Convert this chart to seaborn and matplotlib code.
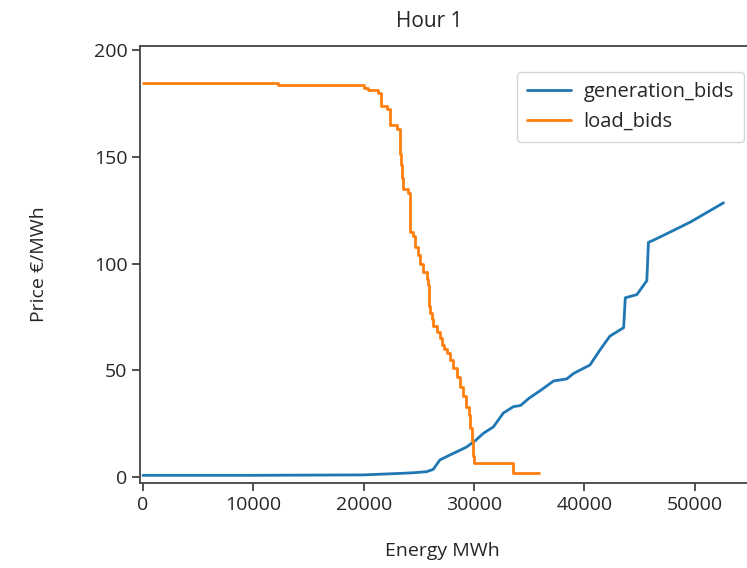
import numpy as np
import pandas as pd
import seaborn as sns
import matplotlib.pyplot as plt

# load bids (demand), step curve: energy where each price level starts
load_energy = [0, 12200, 20000, 20400, 21300, 21550, 22100, 22350, 23000, 23300,
               23350, 23450, 23600, 24050, 24200, 24500, 24650, 24900, 25100, 25400,
               25700, 25850, 25950, 26000, 26150, 26300, 26600, 26900, 27100, 27300,
               27550, 27800, 28100, 28450, 28700, 29000, 29250, 29500, 29650, 29800,
               29900, 29950, 33570, 35900]
load_price = [184.5, 183.5, 182.5, 181.5, 180, 174, 172.5, 165, 163, 151.5,
              146, 140, 135, 133, 115, 113, 108, 104, 100, 96,
              93, 90, 80, 77, 74, 71, 68, 65, 62, 60,
              58, 55, 51, 47, 42, 38, 33, 29, 23, 17,
              10, 6.4, 2, 2]

# generation bids (supply)
gen_energy = [0, 10000, 20000, 23300, 24500, 25700, 26300, 26900, 27800, 28500,
              29300, 30100, 30850, 31750, 32650, 33570, 34200, 35000, 36000, 37200,
              38400, 39000, 40500, 41400, 42300, 43550, 43700, 44750, 45650, 45800,
              46250, 47450, 49600, 52600]
gen_price = [0.8, 0.8, 1.0, 1.7, 2.0, 2.5, 3.6, 8, 10.3, 12,
             14, 17, 20.5, 23.5, 30, 33, 33.5, 37, 40.5, 45,
             46, 48.5, 52.5, 59.5, 66, 70, 84, 85.5, 92, 110,
             111, 114, 119.5, 128.5]

gen = pd.DataFrame({"energy": gen_energy, "price": gen_price})
load = pd.DataFrame({"energy": load_energy, "price": load_price})

sns.set_style("ticks")
plt.rcParams["font.family"] = ["Open Sans", "DejaVu Sans"]

fig = plt.figure(figsize=(7.47, 5.68), dpi=100)
ax = fig.add_axes([140 / 747, 85 / 568, 610 / 747, 437 / 568])

sns.lineplot(data=gen, x="energy", y="price", ax=ax, color="#1f77b4", lw=2,
             label="generation_bids", estimator=None, sort=False)
sns.lineplot(data=load, x="energy", y="price", ax=ax, color="#ff7f0e", lw=2,
             label="load_bids", estimator=None, sort=False, drawstyle="steps-post")

ax.set_xlim(-270, 55000)
ax.set_ylim(-2.8, 202)
ax.set_xticks([0, 10000, 20000, 30000, 40000, 50000])
ax.set_yticks([0, 50, 100, 150, 200])
ax.tick_params(labelsize=14, length=6, width=1.2, color="#333333", pad=3)
for s in ax.spines.values():
    s.set_color("#444444")
    s.set_linewidth(1.3)

ax.set_title("Hour 1", fontsize=15, x=0.475, pad=14)
ax.set_xlabel("Energy MWh", fontsize=14)
ax.set_ylabel("Price €/MWh", fontsize=14)
ax.xaxis.set_label_coords(0.495, -0.135)
ax.yaxis.set_label_coords(-0.15, 0.5)

ax.legend(loc="upper left", bbox_to_anchor=(517 / 747, 1 - 72 / 568),
          bbox_transform=fig.transFigure, fontsize=14.5, frameon=True,
          handlelength=2.2, handletextpad=0.6, borderpad=0.5, borderaxespad=0)

fig.savefig("out.png", dpi=100)
